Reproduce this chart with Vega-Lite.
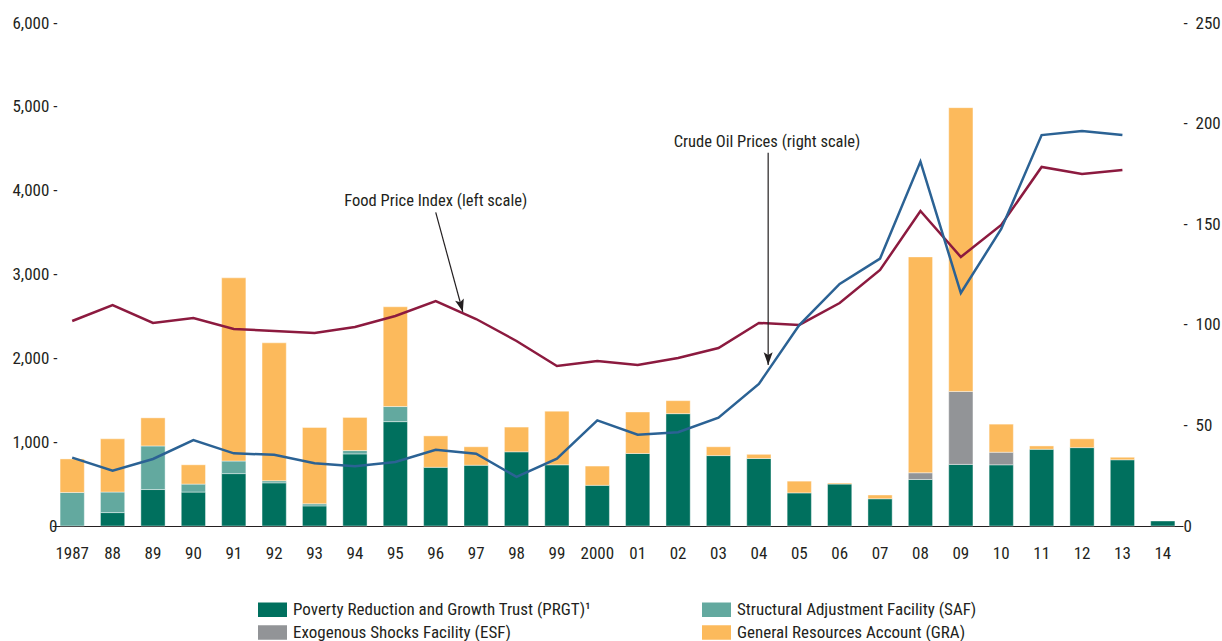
{
  "$schema": "https://vega.github.io/schema/vega-lite/v6.json",
  "width": 1131,
  "height": 503,
  "autosize": {"type": "none"},
  "padding": {"left": 52, "top": 23, "right": 39, "bottom": 115},
  "background": "white",
  "config": {
    "view": {"stroke": null},
    "font": "Roboto Condensed",
    "axis": {"labelFont": "Roboto Condensed", "labelColor": "#231F20", "grid": false, "ticks": false, "domain": false, "title": null, "labelFontSize": 17},
    "legend": {"labelFont": "Roboto Condensed", "labelColor": "#231F20"},
    "text": {"font": "Roboto Condensed"}
  },
  "datasets": {
    "bars": [
      {"year": "1987", "facility": "Structural Adjustment Facility (SAF)", "rank": 2, "value": 400},
      {"year": "1987", "facility": "General Resources Account (GRA)", "rank": 4, "value": 400},
      {"year": "88", "facility": "Poverty Reduction and Growth Trust (PRGT)¹", "rank": 1, "value": 160},
      {"year": "88", "facility": "Structural Adjustment Facility (SAF)", "rank": 2, "value": 245},
      {"year": "88", "facility": "General Resources Account (GRA)", "rank": 4, "value": 635},
      {"year": "89", "facility": "Poverty Reduction and Growth Trust (PRGT)¹", "rank": 1, "value": 435},
      {"year": "89", "facility": "Structural Adjustment Facility (SAF)", "rank": 2, "value": 520},
      {"year": "89", "facility": "General Resources Account (GRA)", "rank": 4, "value": 335},
      {"year": "90", "facility": "Poverty Reduction and Growth Trust (PRGT)¹", "rank": 1, "value": 405},
      {"year": "90", "facility": "Structural Adjustment Facility (SAF)", "rank": 2, "value": 95},
      {"year": "90", "facility": "General Resources Account (GRA)", "rank": 4, "value": 230},
      {"year": "91", "facility": "Poverty Reduction and Growth Trust (PRGT)¹", "rank": 1, "value": 625},
      {"year": "91", "facility": "Structural Adjustment Facility (SAF)", "rank": 2, "value": 150},
      {"year": "91", "facility": "General Resources Account (GRA)", "rank": 4, "value": 2185},
      {"year": "92", "facility": "Poverty Reduction and Growth Trust (PRGT)¹", "rank": 1, "value": 515},
      {"year": "92", "facility": "Structural Adjustment Facility (SAF)", "rank": 2, "value": 25},
      {"year": "92", "facility": "General Resources Account (GRA)", "rank": 4, "value": 1645},
      {"year": "93", "facility": "Poverty Reduction and Growth Trust (PRGT)¹", "rank": 1, "value": 240},
      {"year": "93", "facility": "Structural Adjustment Facility (SAF)", "rank": 2, "value": 25},
      {"year": "93", "facility": "General Resources Account (GRA)", "rank": 4, "value": 910},
      {"year": "94", "facility": "Poverty Reduction and Growth Trust (PRGT)¹", "rank": 1, "value": 860},
      {"year": "94", "facility": "Structural Adjustment Facility (SAF)", "rank": 2, "value": 40},
      {"year": "94", "facility": "General Resources Account (GRA)", "rank": 4, "value": 395},
      {"year": "95", "facility": "Poverty Reduction and Growth Trust (PRGT)¹", "rank": 1, "value": 1245},
      {"year": "95", "facility": "Structural Adjustment Facility (SAF)", "rank": 2, "value": 180},
      {"year": "95", "facility": "General Resources Account (GRA)", "rank": 4, "value": 1190},
      {"year": "96", "facility": "Poverty Reduction and Growth Trust (PRGT)¹", "rank": 1, "value": 700},
      {"year": "96", "facility": "General Resources Account (GRA)", "rank": 4, "value": 375},
      {"year": "97", "facility": "Poverty Reduction and Growth Trust (PRGT)¹", "rank": 1, "value": 725},
      {"year": "97", "facility": "General Resources Account (GRA)", "rank": 4, "value": 220},
      {"year": "98", "facility": "Poverty Reduction and Growth Trust (PRGT)¹", "rank": 1, "value": 885},
      {"year": "98", "facility": "General Resources Account (GRA)", "rank": 4, "value": 295},
      {"year": "99", "facility": "Poverty Reduction and Growth Trust (PRGT)¹", "rank": 1, "value": 730},
      {"year": "99", "facility": "General Resources Account (GRA)", "rank": 4, "value": 640},
      {"year": "2000", "facility": "Poverty Reduction and Growth Trust (PRGT)¹", "rank": 1, "value": 485},
      {"year": "2000", "facility": "General Resources Account (GRA)", "rank": 4, "value": 230},
      {"year": "01", "facility": "Poverty Reduction and Growth Trust (PRGT)¹", "rank": 1, "value": 865},
      {"year": "01", "facility": "General Resources Account (GRA)", "rank": 4, "value": 495},
      {"year": "02", "facility": "Poverty Reduction and Growth Trust (PRGT)¹", "rank": 1, "value": 1340},
      {"year": "02", "facility": "General Resources Account (GRA)", "rank": 4, "value": 155},
      {"year": "03", "facility": "Poverty Reduction and Growth Trust (PRGT)¹", "rank": 1, "value": 840},
      {"year": "03", "facility": "General Resources Account (GRA)", "rank": 4, "value": 105},
      {"year": "04", "facility": "Poverty Reduction and Growth Trust (PRGT)¹", "rank": 1, "value": 805},
      {"year": "04", "facility": "General Resources Account (GRA)", "rank": 4, "value": 50},
      {"year": "05", "facility": "Poverty Reduction and Growth Trust (PRGT)¹", "rank": 1, "value": 395},
      {"year": "05", "facility": "General Resources Account (GRA)", "rank": 4, "value": 140},
      {"year": "06", "facility": "Poverty Reduction and Growth Trust (PRGT)¹", "rank": 1, "value": 500},
      {"year": "06", "facility": "General Resources Account (GRA)", "rank": 4, "value": 12},
      {"year": "07", "facility": "Poverty Reduction and Growth Trust (PRGT)¹", "rank": 1, "value": 325},
      {"year": "07", "facility": "General Resources Account (GRA)", "rank": 4, "value": 45},
      {"year": "08", "facility": "Poverty Reduction and Growth Trust (PRGT)¹", "rank": 1, "value": 555},
      {"year": "08", "facility": "Exogenous Shocks Facility (ESF)", "rank": 3, "value": 80},
      {"year": "08", "facility": "General Resources Account (GRA)", "rank": 4, "value": 2575},
      {"year": "09", "facility": "Poverty Reduction and Growth Trust (PRGT)¹", "rank": 1, "value": 735},
      {"year": "09", "facility": "Exogenous Shocks Facility (ESF)", "rank": 3, "value": 870},
      {"year": "09", "facility": "General Resources Account (GRA)", "rank": 4, "value": 3385},
      {"year": "10", "facility": "Poverty Reduction and Growth Trust (PRGT)¹", "rank": 1, "value": 730},
      {"year": "10", "facility": "Exogenous Shocks Facility (ESF)", "rank": 3, "value": 150},
      {"year": "10", "facility": "General Resources Account (GRA)", "rank": 4, "value": 335},
      {"year": "11", "facility": "Poverty Reduction and Growth Trust (PRGT)¹", "rank": 1, "value": 915},
      {"year": "11", "facility": "General Resources Account (GRA)", "rank": 4, "value": 40},
      {"year": "12", "facility": "Poverty Reduction and Growth Trust (PRGT)¹", "rank": 1, "value": 935},
      {"year": "12", "facility": "General Resources Account (GRA)", "rank": 4, "value": 105},
      {"year": "13", "facility": "Poverty Reduction and Growth Trust (PRGT)¹", "rank": 1, "value": 790},
      {"year": "13", "facility": "General Resources Account (GRA)", "rank": 4, "value": 30},
      {"year": "14", "facility": "Poverty Reduction and Growth Trust (PRGT)¹", "rank": 1, "value": 60}
    ],
    "lines": [
      {"yr": 1987, "food": 2445, "oil": 34.0},
      {"yr": 1988, "food": 2636, "oil": 27.5},
      {"yr": 1989, "food": 2422, "oil": 33.3},
      {"yr": 1990, "food": 2481, "oil": 42.7},
      {"yr": 1991, "food": 2350, "oil": 36.1},
      {"yr": 1992, "food": 2326, "oil": 35.4},
      {"yr": 1993, "food": 2302, "oil": 31.2},
      {"yr": 1994, "food": 2374, "oil": 29.7},
      {"yr": 1995, "food": 2505, "oil": 31.8},
      {"yr": 1996, "food": 2684, "oil": 37.9},
      {"yr": 1997, "food": 2469, "oil": 35.9},
      {"yr": 1998, "food": 2207, "oil": 24.4},
      {"yr": 1999, "food": 1909, "oil": 33.5},
      {"yr": 2000, "food": 1968, "oil": 52.5},
      {"yr": 2001, "food": 1921, "oil": 45.4},
      {"yr": 2002, "food": 2004, "oil": 46.6},
      {"yr": 2003, "food": 2123, "oil": 53.8},
      {"yr": 2004, "food": 2422, "oil": 70.6},
      {"yr": 2005, "food": 2398, "oil": 99.9},
      {"yr": 2006, "food": 2660, "oil": 120.3},
      {"yr": 2007, "food": 3054, "oil": 132.9},
      {"yr": 2008, "food": 3758, "oil": 181.1},
      {"yr": 2009, "food": 3209, "oil": 115.8},
      {"yr": 2010, "food": 3591, "oil": 147.6},
      {"yr": 2011, "food": 4283, "oil": 194.3},
      {"yr": 2012, "food": 4199, "oil": 196.3},
      {"yr": 2013, "food": 4247, "oil": 194.3}
    ]
  },
  "layer": [
    {
      "data": {"name": "bars"},
      "mark": {"type": "bar", "stroke": "#ffffff", "strokeWidth": 0.6, "strokeOpacity": 0.7},
      "encoding": {
        "x": {
          "field": "year", "type": "ordinal",
          "scale": {"type": "band", "domain": ["1987","88","89","90","91","92","93","94","95","96","97","98","99","2000","01","02","03","04","05","06","07","08","09","10","11","12","13","14"], "paddingInner": 0.4, "paddingOuter": 0.2},
          "axis": {"domain": true, "domainColor": "#231F20", "domainWidth": 1.2, "labelAngle": 0, "labelPadding": 19, "title": null}
        },
        "y": {
          "field": "value", "type": "quantitative", "stack": "zero",
          "scale": {"domain": [0, 6000], "nice": false},
          "axis": {"orient": "left", "values": [0, 1000, 2000, 3000, 4000, 5000, 6000], "labelExpr": "datum.value == 0 ? '0\u00a0\u00a0' : format(datum.value, ',') + ' -'", "labelPadding": -5}
        },
        "order": {"field": "rank", "type": "quantitative", "sort": "ascending"},
        "color": {
          "field": "facility", "type": "nominal",
          "scale": {
            "domain": ["Poverty Reduction and Growth Trust (PRGT)¹", "Structural Adjustment Facility (SAF)", "Exogenous Shocks Facility (ESF)", "General Resources Account (GRA)"],
            "range": ["#00705E", "#63A99F", "#929497", "#FCBA5C"]
          },
          "legend": {"orient": "none", "legendX": 206, "legendY": 572, "direction": "horizontal", "columns": 2, "title": null, "symbolType": "M-1,-0.5H1V0.5H-1Z", "symbolSize": 841, "symbolStrokeWidth": 0, "symbolOpacity": 1, "labelFontSize": 17, "labelLimit": 0, "labelOffset": 6, "columnPadding": 110, "rowPadding": -6}
        }
      }
    },
    {
      "data": {"name": "lines"},
      "mark": {"type": "line", "color": "#8C1A3F", "strokeWidth": 2.5},
      "encoding": {
        "x": {"field": "yr", "type": "quantitative", "scale": {"domain": [1986.5, 2014.5], "nice": false, "zero": false}, "axis": null},
        "y": {"field": "food", "type": "quantitative", "scale": {"domain": [0, 6000], "nice": false}, "axis": null}
      }
    },
    {
      "data": {"name": "lines"},
      "mark": {"type": "line", "color": "#2B6294", "strokeWidth": 2.5},
      "encoding": {
        "x": {"field": "yr", "type": "quantitative", "scale": {"domain": [1986.5, 2014.5], "nice": false, "zero": false}, "axis": null},
        "y": {"field": "oil", "type": "quantitative", "scale": {"domain": [0, 250], "nice": false},
          "axis": {"orient": "right", "values": [0, 50, 100, 150, 200, 250], "labelExpr": "datum.value == 0 ? '\u00a0\u00a0\u00a00' : '-\u00a0\u00a0' + datum.label", "labelPadding": 0, "labelAlign": "left"}}
      }
    },
    {
      "data": {"values": [{"yr": 1996, "v": 3880, "t": "Food Price Index (left scale)"}, {"yr": 2004.2, "v": 4584, "t": "Crude Oil Prices (right scale)"}]},
      "mark": {"type": "text", "fontSize": 16.5, "color": "#231F20", "align": "center", "baseline": "middle"},
      "encoding": {
        "x": {"field": "yr", "type": "quantitative", "scale": {"domain": [1986.5, 2014.5], "nice": false, "zero": false}, "axis": null},
        "y": {"field": "v", "type": "quantitative", "scale": {"domain": [0, 6000], "nice": false}, "axis": null},
        "text": {"field": "t"}
      }
    },
    {
      "data": {"values": [{"yr": 1996, "v": 3740, "yr2": 1996.67, "v2": 2556}, {"yr": 2004.23, "v": 4453, "yr2": 2004.23, "v2": 1921}]},
      "mark": {"type": "rule", "color": "#231F20", "strokeWidth": 1.2},
      "encoding": {
        "x": {"field": "yr", "type": "quantitative", "scale": {"domain": [1986.5, 2014.5], "nice": false, "zero": false}, "axis": null},
        "x2": {"field": "yr2"},
        "y": {"field": "v", "type": "quantitative", "scale": {"domain": [0, 6000], "nice": false}, "axis": null},
        "y2": {"field": "v2"}
      }
    },
    {
      "data": {"values": [{"yr": 1996.67, "v": 2556}]},
      "mark": {"type": "point", "shape": "M0,0L-0.5,-1.4L0,-1.1L0.5,-1.4Z", "filled": true, "color": "#231F20", "size": 324, "angle": 344.6, "opacity": 1},
      "encoding": {
        "x": {"field": "yr", "type": "quantitative", "scale": {"domain": [1986.5, 2014.5], "nice": false, "zero": false}, "axis": null},
        "y": {"field": "v", "type": "quantitative", "scale": {"domain": [0, 6000], "nice": false}, "axis": null}
      }
    },
    {
      "data": {"values": [{"yr": 2004.23, "v": 1921}]},
      "mark": {"type": "point", "shape": "M0,0L-0.5,-1.4L0,-1.1L0.5,-1.4Z", "filled": true, "color": "#231F20", "size": 324, "angle": 0, "opacity": 1},
      "encoding": {
        "x": {"field": "yr", "type": "quantitative", "scale": {"domain": [1986.5, 2014.5], "nice": false, "zero": false}, "axis": null},
        "y": {"field": "v", "type": "quantitative", "scale": {"domain": [0, 6000], "nice": false}, "axis": null}
      }
    }
  ],
  "resolve": {"scale": {"x": "independent", "y": "independent"}}
}
